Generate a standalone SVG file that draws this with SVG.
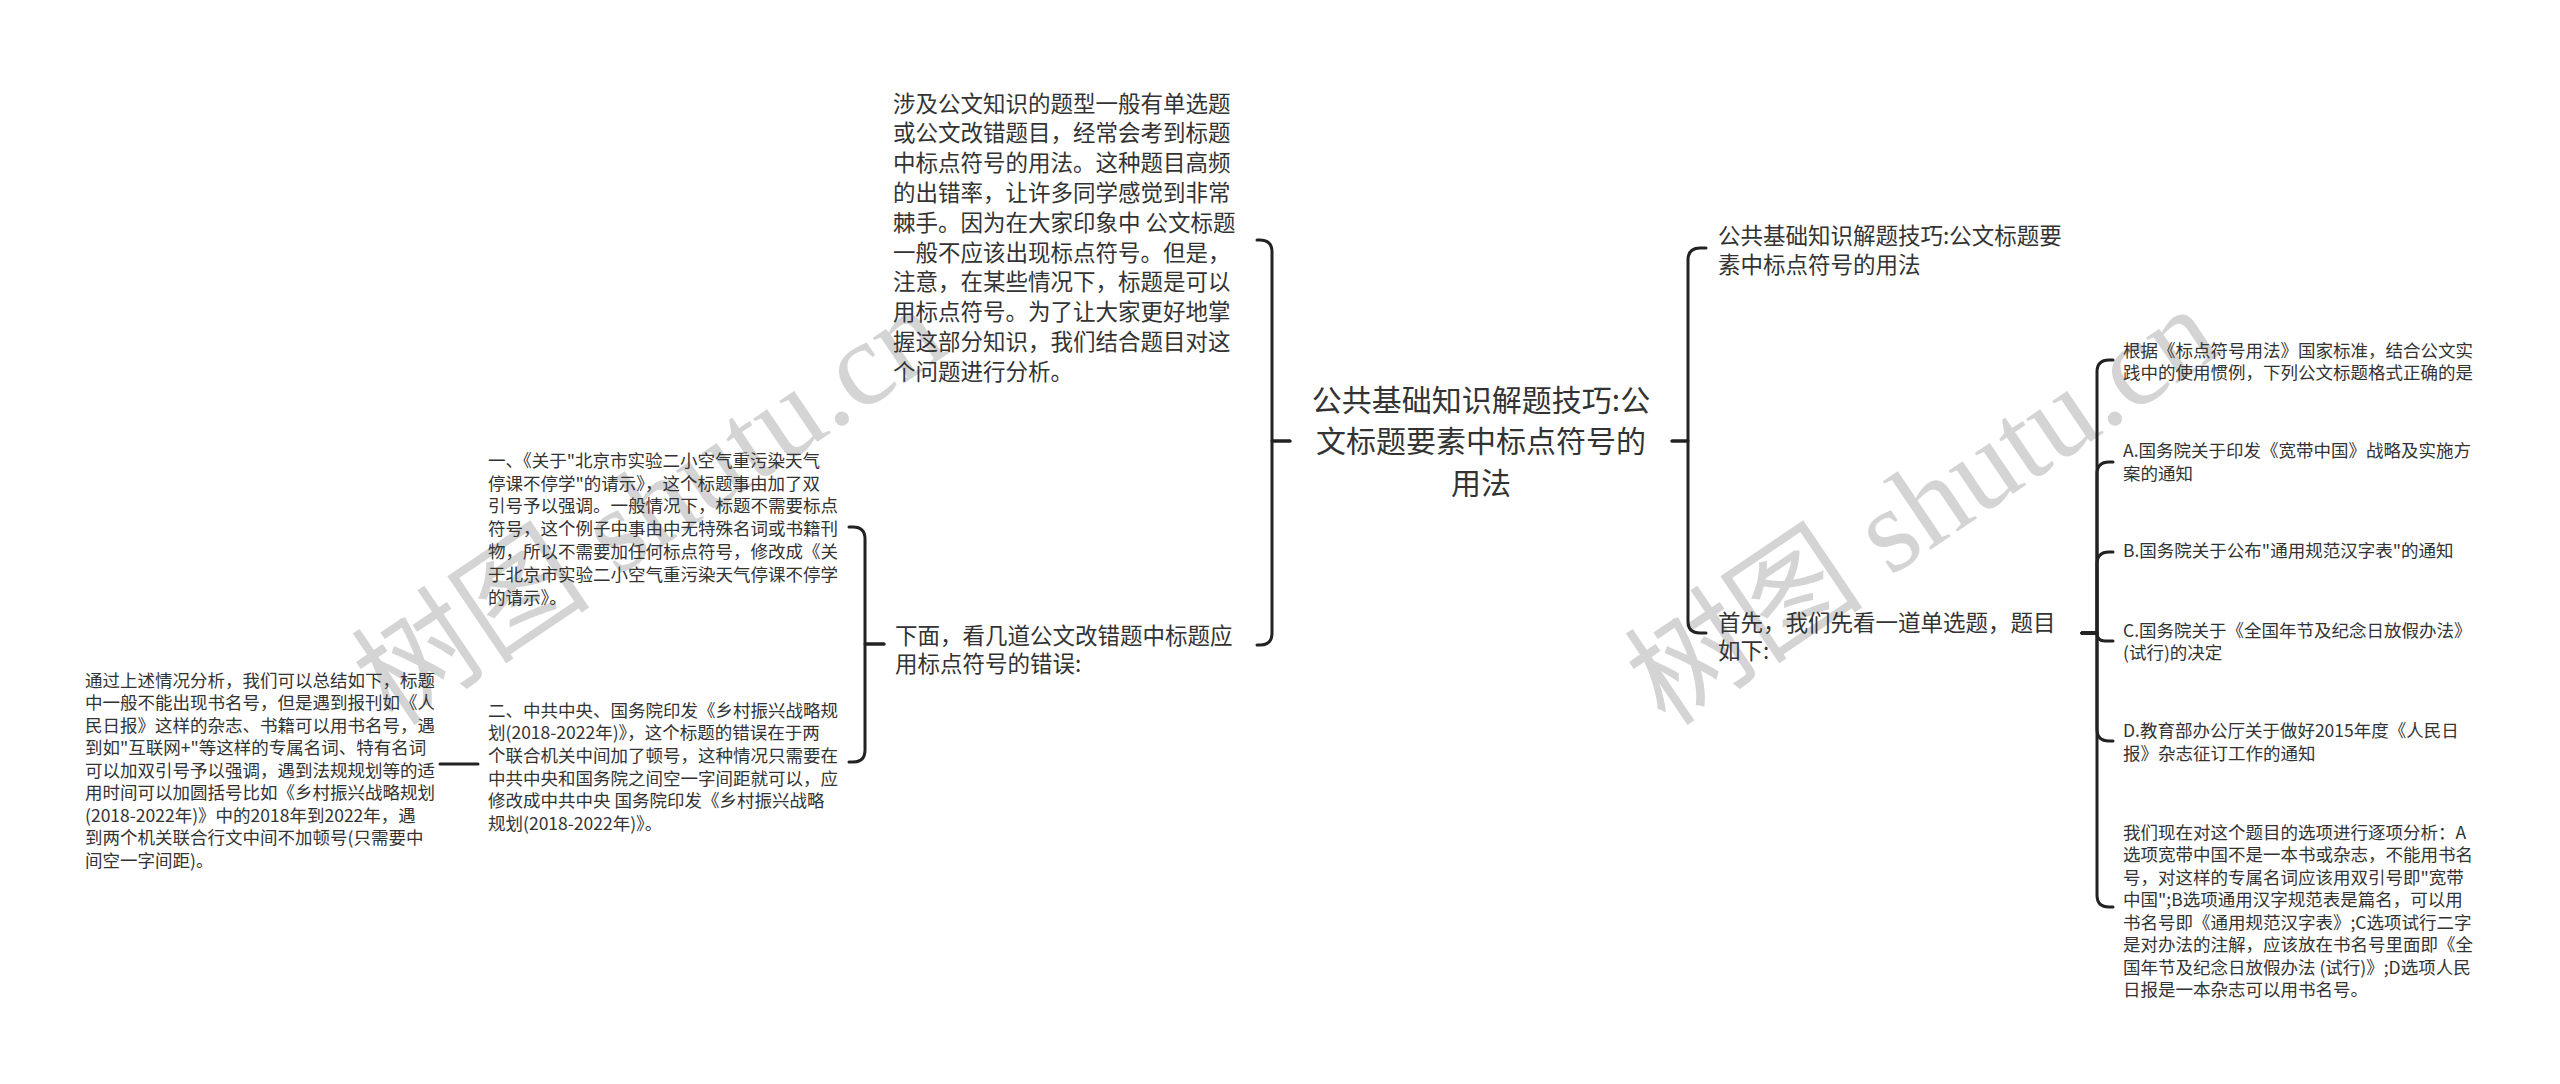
<svg xmlns="http://www.w3.org/2000/svg" width="2560" height="1084" viewBox="0 0 2560 1084">
<style>
.t{font-family:"Noto Sans CJK SC","Noto Sans",sans-serif;fill:#333}
.f30{font-size:30px}
.f22{font-size:22.5px}
.f17{font-size:17.5px}
.c{fill:none;stroke:#222;stroke-width:3;stroke-linecap:round;stroke-linejoin:round}
.wm{font-family:"Liberation Serif","Noto Sans CJK SC",serif;font-size:120px;fill:#d4d4d4}
</style>
<rect width="2560" height="1084" fill="#fff"/>
<g id="watermarks">
<text class="wm" transform="translate(393 728) rotate(-34)">树图 shutu.cn</text>
<text class="wm" transform="translate(1666 728) rotate(-34)">树图 shutu.cn</text>
</g>
<g id="connectors">
<path class="c" d="M1290 441 H1272 V252 Q1272 240 1260 240 H1257"/>
<path class="c" d="M1290 441 H1272 V633 Q1272 645 1260 645 H1257"/>
<path class="c" d="M1672 441 H1688 V260 Q1688 248 1700 248 H1706"/>
<path class="c" d="M1672 441 H1688 V621 Q1688 633 1700 633 H1706"/>
<path class="c" d="M2082 633 H2097 V372 Q2097 360 2109 360 H2113"/>
<path class="c" d="M2082 633 H2097 V474 Q2097 462 2109 462 H2113"/>
<path class="c" d="M2082 633 H2097 V564 Q2097 552 2109 552 H2113"/>
<path class="c" d="M2082 633 H2097 Q2097 641 2105 641 H2113"/>
<path class="c" d="M2082 633 H2097 V729 Q2097 741 2109 741 H2113"/>
<path class="c" d="M2082 633 H2097 V895 Q2097 907 2109 907 H2113"/>
<path class="c" d="M884 644 H865 V539 Q865 527 853 527 H849"/>
<path class="c" d="M884 644 H865 V750 Q865 762 853 762 H849"/>
<path class="c" d="M478 764 H440"/>
</g>
<g id="root">
<text class="t f30" text-anchor="middle"><tspan x="1481" y="411">公共基础知识解题技巧:公</tspan><tspan x="1481" y="452">文标题要素中标点符号的</tspan><tspan x="1481" y="494">用法</tspan></text>
</g>
<g id="intro">
<text class="t f22"><tspan x="893" y="111.6">涉及公文知识的题型一般有单选题</tspan><tspan x="893" y="141.4">或公文改错题目，经常会考到标题</tspan><tspan x="893" y="171.2">中标点符号的用法。这种题目高频</tspan><tspan x="893" y="201">的出错率，让许多同学感觉到非常</tspan><tspan x="893" y="230.8">棘手。因为在大家印象中 公文标题</tspan><tspan x="893" y="260.6">一般不应该出现标点符号。但是，</tspan><tspan x="893" y="290.4">注意，在某些情况下，标题是可以</tspan><tspan x="893" y="320.2">用标点符号。为了让大家更好地掌</tspan><tspan x="893" y="350">握这部分知识，我们结合题目对这</tspan><tspan x="893" y="379.8">个问题进行分析。</tspan></text>
</g>
<g id="errors">
<text class="t f22"><tspan x="895" y="643.6">下面，看几道公文改错题中标题应</tspan><tspan x="895" y="671.6">用标点符号的错误:</tspan></text>
</g>
<g id="example1">
<text class="t f17"><tspan x="488" y="466.7">一、《关于"北京市实验二小空气重污染天气</tspan><tspan x="488" y="489.5">停课不停学"的请示》，这个标题事由加了双</tspan><tspan x="488" y="512.3">引号予以强调。一般情况下，标题不需要标点</tspan><tspan x="488" y="535.1">符号，这个例子中事由中无特殊名词或书籍刊</tspan><tspan x="488" y="557.9">物，所以不需要加任何标点符号，修改成《关</tspan><tspan x="488" y="580.7">于北京市实验二小空气重污染天气停课不停学</tspan><tspan x="488" y="603.5">的请示》。</tspan></text>
</g>
<g id="example2">
<text class="t f17"><tspan x="488" y="716.7">二、中共中央、国务院印发《乡村振兴战略规</tspan><tspan x="488" y="739.3">划(2018-2022年)》，这个标题的错误在于两</tspan><tspan x="488" y="761.9">个联合机关中间加了顿号，这种情况只需要在</tspan><tspan x="488" y="784.5">中共中央和国务院之间空一字间距就可以，应</tspan><tspan x="488" y="807.1">修改成中共中央 国务院印发《乡村振兴战略</tspan><tspan x="488" y="829.7">规划(2018-2022年)》。</tspan></text>
</g>
<g id="summary">
<text class="t f17"><tspan x="85" y="686.7">通过上述情况分析，我们可以总结如下，标题</tspan><tspan x="85" y="709.2">中一般不能出现书名号，但是遇到报刊如《人</tspan><tspan x="85" y="731.7">民日报》这样的杂志、书籍可以用书名号，遇</tspan><tspan x="85" y="754.2">到如"互联网+"等这样的专属名词、特有名词</tspan><tspan x="85" y="776.7">可以加双引号予以强调，遇到法规规划等的适</tspan><tspan x="85" y="799.2">用时间可以加圆括号比如《乡村振兴战略规划</tspan><tspan x="85" y="821.7">(2018-2022年)》中的2018年到2022年，遇</tspan><tspan x="85" y="844.2">到两个机关联合行文中间不加顿号(只需要中</tspan><tspan x="85" y="866.7">间空一字间距)。</tspan></text>
</g>
<g id="title-copy">
<text class="t f22"><tspan x="1718" y="243.6">公共基础知识解题技巧:公文标题要</tspan><tspan x="1718" y="272.6">素中标点符号的用法</tspan></text>
</g>
<g id="question">
<text class="t f22"><tspan x="1718" y="630.6">首先，我们先看一道单选题，题目</tspan><tspan x="1718" y="658.6">如下:</tspan></text>
</g>
<g id="stem">
<text class="t f17"><tspan x="2123" y="356.7">根据《标点符号用法》国家标准，结合公文实</tspan><tspan x="2123" y="378.7">践中的使用惯例，下列公文标题格式正确的是</tspan></text>
</g>
<g id="optionA">
<text class="t f17"><tspan x="2123" y="456.7">A.国务院关于印发《宽带中国》战略及实施方</tspan><tspan x="2123" y="479.7">案的通知</tspan></text>
</g>
<g id="optionB">
<text class="t f17"><tspan x="2123" y="556.7">B.国务院关于公布"通用规范汉字表"的通知</tspan></text>
</g>
<g id="optionC">
<text class="t f17"><tspan x="2123" y="636.7">C.国务院关于《全国年节及纪念日放假办法》</tspan><tspan x="2123" y="658.7">(试行)的决定</tspan></text>
</g>
<g id="optionD">
<text class="t f17"><tspan x="2123" y="736.7">D.教育部办公厅关于做好2015年度《人民日</tspan><tspan x="2123" y="759.7">报》杂志征订工作的通知</tspan></text>
</g>
<g id="analysis">
<text class="t f17"><tspan x="2123" y="838.7">我们现在对这个题目的选项进行逐项分析：A</tspan><tspan x="2123" y="861.2">选项宽带中国不是一本书或杂志，不能用书名</tspan><tspan x="2123" y="883.7">号，对这样的专属名词应该用双引号即"宽带</tspan><tspan x="2123" y="906.2">中国";B选项通用汉字规范表是篇名，可以用</tspan><tspan x="2123" y="928.7">书名号即《通用规范汉字表》;C选项试行二字</tspan><tspan x="2123" y="951.2">是对办法的注解，应该放在书名号里面即《全</tspan><tspan x="2123" y="973.7">国年节及纪念日放假办法 (试行)》;D选项人民</tspan><tspan x="2123" y="996.2">日报是一本杂志可以用书名号。</tspan></text>
</g>
</svg>
